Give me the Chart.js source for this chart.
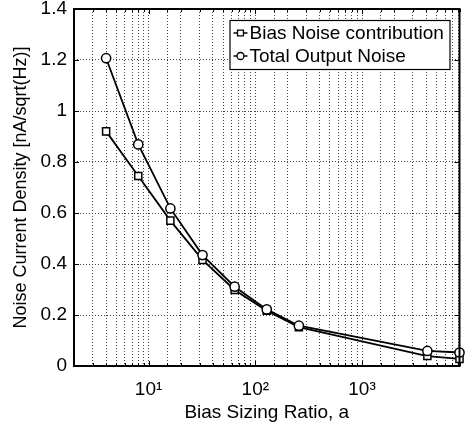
<!DOCTYPE html>
<html>
<head>
<meta charset="utf-8">
<script src="https://cdn.jsdelivr.net/npm/chart.js@4/dist/chart.umd.min.js"></script>
<style>
  html, body { margin: 0; padding: 0; background: #fff; }
  #wrap { width: 466px; height: 428px; }
</style>
</head>
<body>
<div id="wrap"><canvas id="noiseChart" width="466" height="428"></canvas></div>
<script>
// bias sizing ratio a
var sizingRatio = [4, 8, 16, 32, 64, 128, 256, 4096, 8192];
// noise current density, nA/sqrt(Hz)
var biasNoise = [0.92, 0.745, 0.57, 0.416, 0.298, 0.217, 0.152, 0.039, 0.028];
var totalNoise = [1.207, 0.869, 0.618, 0.435, 0.311, 0.222, 0.158, 0.059, 0.053];
var seriesNames = ["Bias Noise contribution", "Total Output Noise"];
var yTicks = [0, 0.2, 0.4, 0.6, 0.8, 1, 1.2, 1.4];
var xTickLabels = { 10: "10\u00B9", 100: "10\u00B2", 1000: "10\u00B3" };

var FONT = "Liberation Sans, Arial, sans-serif";

function toPoints(xs, ys) {
  return xs.map(function (x, i) { return { x: x, y: ys[i] }; });
}

// axes box, inward ticks and the legend box drawn like matlab does
var matlabFrame = {
  id: "matlabFrame",
  afterDraw: function (chart) {
    var ctx = chart.ctx;
    var a = chart.chartArea;
    var xs = chart.scales.x, ys = chart.scales.y;
    ctx.save();
    ctx.strokeStyle = "#000";
    ctx.lineWidth = 1;
    ctx.beginPath();
    ys.ticks.forEach(function (t) {
      var py = Math.round(ys.getPixelForValue(t.value)) + 0.5;
      ctx.moveTo(a.left, py); ctx.lineTo(a.left + 5, py);
      ctx.moveTo(a.right, py); ctx.lineTo(a.right - 5, py);
    });
    xs.ticks.forEach(function (t) {
      var px = Math.round(xs.getPixelForValue(t.value)) + 0.5;
      var len = xTickLabels[t.value] ? 5 : 3;
      ctx.moveTo(px, a.bottom); ctx.lineTo(px, a.bottom - len);
      ctx.moveTo(px, a.top); ctx.lineTo(px, a.top + len);
    });
    ctx.stroke();
    ctx.lineWidth = 2;
    ctx.strokeRect(a.left, a.top, a.right - a.left, a.bottom - a.top);

    // legend
    var bw = 220, bh = 49;
    var bx = a.right - 10 - bw, by = a.top + 11;
    ctx.fillStyle = "#fff";
    ctx.fillRect(bx, by, bw, bh);
    ctx.lineWidth = 1.2;
    ctx.strokeRect(bx + 0.5, by + 0.5, bw, bh);
    ctx.font = "19px " + FONT;
    ctx.textBaseline = "middle";
    chart.data.datasets.forEach(function (ds, i) {
      var ry = by + 13 + i * 23;
      ctx.strokeStyle = "#000";
      ctx.lineWidth = 1.5;
      ctx.beginPath();
      ctx.moveTo(bx + 4, ry); ctx.lineTo(bx + 18, ry);
      ctx.stroke();
      ctx.fillStyle = "#fff";
      ctx.lineWidth = 1.3;
      Chart.helpers.drawPoint(ctx, { pointStyle: ds.pointStyle, radius: ds.pointStyle === "rect" ? 4.2 : 3.5, rotation: 0, borderWidth: 1.3 }, bx + 11, ry);
      ctx.fillStyle = "#000";
      ctx.fillText(ds.label, bx + 20, ry + 1);
    });
    ctx.restore();
  }
};

var ctx = document.getElementById("noiseChart").getContext("2d");
var chart = new Chart(ctx, {
  type: "line",
  data: {
    datasets: [
      {
        label: seriesNames[0],
        data: toPoints(sizingRatio, biasNoise),
        borderColor: "#000",
        borderWidth: 1.8,
        pointStyle: "rect",
        pointRadius: 5,
        pointBackgroundColor: "#fff",
        pointBorderColor: "#000",
        pointBorderWidth: 1.5,
        tension: 0,
        clip: false,
        order: 1
      },
      {
        label: seriesNames[1],
        data: toPoints(sizingRatio, totalNoise),
        borderColor: "#000",
        borderWidth: 1.8,
        pointStyle: "circle",
        pointRadius: 4.6,
        pointBackgroundColor: "#fff",
        pointBorderColor: "#000",
        pointBorderWidth: 1.5,
        tension: 0,
        clip: false,
        order: 0
      }
    ]
  },
  options: {
    responsive: false,
    animation: false,
    layout: { padding: { left: 0, top: 9, right: 5, bottom: 0 } },
    plugins: {
      legend: { display: false },
      tooltip: { enabled: false }
    },
    scales: {
      x: {
        type: "logarithmic",
        min: 2,
        max: 8192,
        afterFit: function (s) { s.height = 62; s.paddingLeft = 0; s.paddingRight = 0; },
        grid: { color: "#444", lineWidth: 1, drawTicks: false },
        border: { display: false, dash: [1, 2] },
        ticks: {
          autoSkip: false,
          maxRotation: 0,
          padding: 12,
          color: "#000",
          font: { family: FONT, size: 19 },
          callback: function (v) { return xTickLabels[v] || ""; }
        },
        title: {
          display: true,
          text: "Bias Sizing Ratio, a",
          color: "#000",
          font: { family: FONT, size: 19 },
          padding: { top: 0, bottom: 4 }
        }
      },
      y: {
        min: 0,
        max: 1.4,
        afterFit: function (s) { s.width = 74; s.paddingTop = 0; s.paddingBottom = 0; },
        afterBuildTicks: function (s) { s.ticks = yTicks.map(function (v) { return { value: v }; }); },
        grid: { color: "#444", lineWidth: 1, drawTicks: false },
        border: { display: false, dash: [1, 2] },
        ticks: {
          padding: 7,
          color: "#000",
          font: { family: FONT, size: 19 },
          callback: function (v) { return String(v); }
        },
        title: {
          display: true,
          text: "Noise Current Density [nA/sqrt(Hz)]",
          color: "#000",
          font: { family: FONT, size: 18 },
          padding: { top: 10, bottom: 0 }
        }
      }
    }
  },
  plugins: [matlabFrame]
});
</script>
</body>
</html>
